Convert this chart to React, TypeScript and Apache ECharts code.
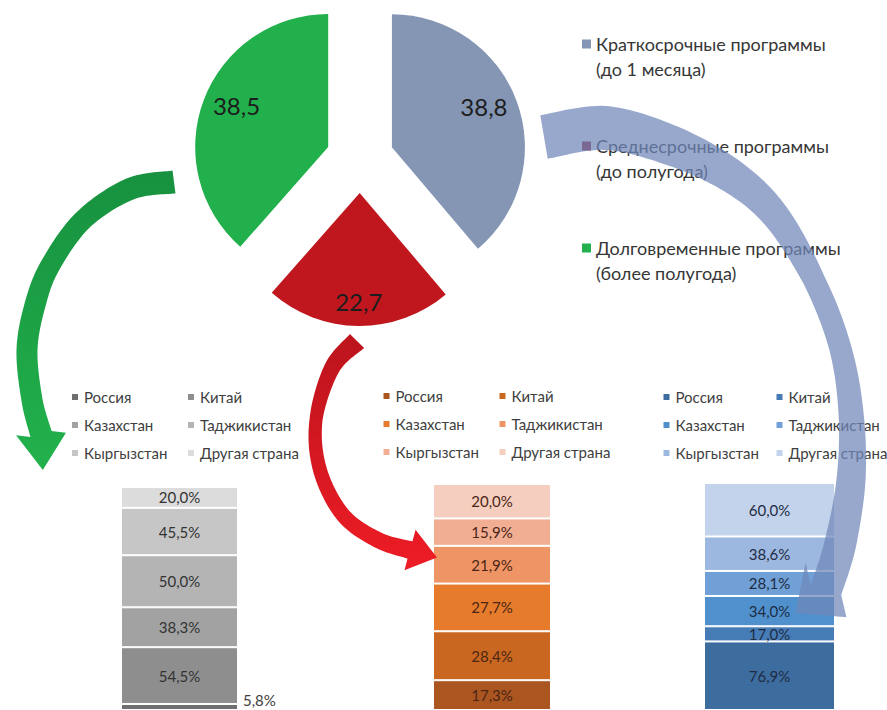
import React, { useEffect, useRef } from "react";
import * as echarts from "echarts";

// ---------- DATA ----------
const programCategories = [
  "Краткосрочные программы\n(до 1 месяца)",
  "Среднесрочные программы\n(до полугода)",
  "Долговременные программы\n(более полугода)",
];
const programShares = [38.8, 22.7, 38.5];

const countries = ["Россия", "Китай", "Казахстан", "Таджикистан", "Кыргызстан", "Другая страна"];
// long-term programmes (grey bar)
const longTermValues = [5.8, 54.5, 38.3, 50.0, 45.5, 20.0];
// medium-term programmes (orange bar)
const mediumTermValues = [17.3, 28.4, 27.7, 21.9, 15.9, 20.0];
// short-term programmes (blue bar)
const shortTermValues = [76.9, 17.0, 34.0, 28.1, 38.6, 60.0];

// ---------- STYLE ----------
const FONT = "Lato, 'Noto Sans', 'DejaVu Sans', sans-serif";
const pieColors = ["#8496b4", "#c0171f", "#21b04b"];
const pieLegendColors = ["#8496b4", "#9c1a30", "#21b04b"];
const greyColors = ["#6f6f6f", "#8e8e8e", "#a2a2a2", "#b4b4b4", "#c6c6c6", "#dcdcdc"];
const orangeColors = ["#ab5521", "#c9661f", "#e67b2b", "#ef9465", "#f2ae93", "#f6cebf"];
const blueColors = ["#3d6c9f", "#467cb5", "#5090cc", "#70a0d6", "#9cb8e0", "#c3d3ec"];

type Pt = [number, number];

function sampleSpline(pts: Pt[], widths: number[], steps = 16) {
  const out: { x: number; y: number; w: number }[] = [];
  const n = pts.length;
  for (let i = 0; i < n - 1; i++) {
    const p0 = pts[Math.max(i - 1, 0)];
    const p1 = pts[i];
    const p2 = pts[i + 1];
    const p3 = pts[Math.min(i + 2, n - 1)];
    for (let s = 0; s < steps; s++) {
      const t = s / steps;
      const t2 = t * t;
      const t3 = t2 * t;
      const f = (k: number) =>
        0.5 *
        (2 * p1[k] +
          (-p0[k] + p2[k]) * t +
          (2 * p0[k] - 5 * p1[k] + 4 * p2[k] - p3[k]) * t2 +
          (-p0[k] + 3 * p1[k] - 3 * p2[k] + p3[k]) * t3);
      out.push({ x: f(0), y: f(1), w: widths[i] + (widths[i + 1] - widths[i]) * t });
    }
  }
  out.push({ x: pts[n - 1][0], y: pts[n - 1][1], w: widths[n - 1] });
  return out;
}

function arrowPath(pts: Pt[], widths: number[], headLen: number, headHalf: number, headDir?: Pt) {
  const s = sampleSpline(pts, widths);
  const L: Pt[] = [];
  const R: Pt[] = [];
  for (let i = 0; i < s.length; i++) {
    const a = s[Math.max(i - 1, 0)];
    const b = s[Math.min(i + 1, s.length - 1)];
    let tx = b.x - a.x;
    let ty = b.y - a.y;
    const len = Math.hypot(tx, ty) || 1;
    tx /= len;
    ty /= len;
    const nx = -ty;
    const ny = tx;
    L.push([s[i].x + (nx * s[i].w) / 2, s[i].y + (ny * s[i].w) / 2]);
    R.push([s[i].x - (nx * s[i].w) / 2, s[i].y - (ny * s[i].w) / 2]);
  }
  const e = s[s.length - 1];
  const pe = s[s.length - 3];
  let dx = headDir ? headDir[0] : e.x - pe.x;
  let dy = headDir ? headDir[1] : e.y - pe.y;
  const dl = Math.hypot(dx, dy) || 1;
  dx /= dl;
  dy /= dl;
  const hx = -dy;
  const hy = dx;
  const tip: Pt = [e.x + dx * headLen, e.y + dy * headLen];
  const bl: Pt = [e.x + hx * headHalf, e.y + hy * headHalf];
  const br: Pt = [e.x - hx * headHalf, e.y - hy * headHalf];
  const f = (p: Pt) => `${p[0].toFixed(2)} ${p[1].toFixed(2)}`;
  let d = `M ${f(L[0])}`;
  for (let i = 1; i < L.length; i++) d += ` L ${f(L[i])}`;
  d += ` L ${f(bl)} L ${f(tip)} L ${f(br)}`;
  for (let i = R.length - 1; i >= 0; i--) d += ` L ${f(R[i])}`;
  return d + " Z";
}

const greenArrowD = arrowPath(
  [[174, 182], [130, 189], [83, 220], [50, 266], [35, 305], [27, 350], [32, 400], [41, 434]],
  [23, 22, 20, 20, 21, 21, 21, 22],
  36,
  25,
  [0.05, 1]
);
const redArrowD = arrowPath(
  [[357, 341], [332, 368], [316, 420], [320, 470], [343, 515], [378, 540], [410, 550]],
  [20, 16, 13, 14, 15, 16, 18],
  28,
  21
);
const blueArrowD = arrowPath(
  [[544, 137], [605, 128], [670, 145], [730, 175], [775, 215], [814, 280], [840, 347], [851, 413], [851, 480], [840, 545], [826, 590]],
  [44, 44, 40, 34, 28, 22, 22, 25, 29, 32, 32],
  38,
  34,
  [-0.8, 0.6]
);

echarts.graphic.registerShape("arrowGreen", echarts.graphic.extendPath(greenArrowD, {}));
echarts.graphic.registerShape("arrowRed", echarts.graphic.extendPath(redArrowD, {}));
echarts.graphic.registerShape("arrowBlue", echarts.graphic.extendPath(blueArrowD, {}));

const fmtPct = (v: number) => v.toFixed(1).replace(".", ",") + "%";
const fmtNum = (v: number) => v.toFixed(1).replace(".", ",");
const sum = (a: number[]) => a.reduce((s, v) => s + v, 0);

const barGroups = [
  { values: longTermValues, colors: greyColors, labelColor: "#333333", left: 121, width: 117, top: 487 },
  { values: mediumTermValues, colors: orangeColors, labelColor: "#4a2616", left: 433, width: 118, top: 484 },
  { values: shortTermValues, colors: blueColors, labelColor: "#1e2c44", left: 704, width: 131, top: 483 },
];
const legendLefts = [70, 381.5, 661.5];
const legendTops = [389, 388, 389];
const legendTextWidths = [90, 90, 87];
// vertical nudge of the pie value labels, done with an empty text line
const pieLabelShift = [
  { before: false, lineHeight: 14 },
  { before: true, lineHeight: 22 },
  { before: false, lineHeight: 14 },
];

export default function App() {
  const ref = useRef<HTMLDivElement>(null);
  useEffect(() => {
    if (!ref.current) return;
    const chart = echarts.init(ref.current, undefined, { renderer: "svg" });

    const grids = barGroups.map((g) => ({
      left: g.left,
      width: g.width,
      top: g.top,
      height: 711 - g.top,
      containLabel: false,
    }));
    const xAxes = barGroups.map((_, i) => ({
      type: "category" as const,
      gridIndex: i,
      data: [""],
      show: false,
    }));
    const yAxes = barGroups.map((g, i) => ({
      type: "value" as const,
      gridIndex: i,
      min: 0,
      max: sum(g.values),
      show: false,
    }));
    const barSeries: any[] = [];
    barGroups.forEach((g, gi) => {
      countries.forEach((c, ci) => {
        const v = g.values[ci];
        const small = v / sum(g.values) < 0.04;
        barSeries.push({
          type: "bar",
          name: c,
          stack: "s" + gi,
          xAxisIndex: gi,
          yAxisIndex: gi,
          barWidth: "100%",
          data: [v],
          silent: true,
          itemStyle: { color: g.colors[ci], borderColor: "#ffffff", borderWidth: 1 },
          label: {
            show: true,
            position: small ? "right" : "inside",
            distance: 5,
            formatter: (p: any) => fmtPct(p.value),
            color: small ? "#404040" : g.labelColor,
            fontSize: 15,
            fontFamily: FONT,
            offset: small ? [0, -7] : [0, 0],
          },
          emphasis: { disabled: true },
        });
      });
    });

    const barLegends = barGroups.map((g, gi) => ({
      orient: "horizontal",
      left: legendLefts[gi],
      top: legendTops[gi],
      width: 240,
      padding: 0,
      itemGap: 12,
      itemWidth: 8,
      itemHeight: 8,
      icon: "rect",
      selectedMode: false,
      data: countries.map((c, ci) => ({ name: c, itemStyle: { color: g.colors[ci] } })),
      textStyle: {
        fontSize: 15,
        lineHeight: 16,
        width: legendTextWidths[gi],
        overflow: "none",
        color: "#404040",
        fontFamily: FONT,
      },
    }));

    const pieCommon = {
      type: "pie",
      center: [360, 159],
      startAngle: 90,
      clockwise: true,
      selectedMode: "multiple",
      selectedOffset: 34,
      silent: true,
      labelLine: { show: false },
      emphasis: { disabled: true },
    };

    chart.setOption({
      animation: false,
      textStyle: { fontFamily: FONT },
      legend: [
        {
          orient: "vertical",
          left: 582,
          top: 6.5,
          padding: 0,
          itemGap: 27,
          itemWidth: 9,
          itemHeight: 9,
          icon: "rect",
          selectedMode: false,
          formatter: (name: string) => "\n" + name,
          data: programCategories.map((n, i) => ({ name: n, itemStyle: { color: pieLegendColors[i] } })),
          textStyle: {
            fontSize: 18,
            lineHeight: 25,
            color: "#363636",
            fontFamily: FONT,
          },
        },
        ...barLegends,
      ],
      grid: grids,
      xAxis: xAxes,
      yAxis: yAxes,
      series: [
        {
          ...pieCommon,
          radius: [0, 133],
          data: programCategories.map((name, i) => ({
            name,
            value: programShares[i],
            selected: true,
            itemStyle: { color: pieColors[i] },
          })),
          label: { show: false },
        },
        {
          // transparent copy of the pie that only carries the value labels
          ...pieCommon,
          radius: [57, 133],
          z: 3,
          data: programCategories.map((name, i) => ({
            name,
            value: programShares[i],
            selected: true,
            itemStyle: { color: "rgba(0,0,0,0)", borderWidth: 0 },
            label: { lineHeight: pieLabelShift[i].lineHeight },
          })),
          label: {
            show: true,
            position: "inside",
            formatter: (p: any) =>
              pieLabelShift[p.dataIndex].before ? "\n" + fmtNum(p.value) : fmtNum(p.value) + "\n",
            fontSize: 24,
            color: "#1d1d1d",
            fontFamily: FONT,
            overflow: "none",
          },
        },
        ...barSeries,
      ],
      graphic: {
        elements: [
          {
            type: "arrowGreen",
            x: 0,
            y: 0,
            z: 100,
            silent: true,
            style: {
              fill: new echarts.graphic.LinearGradient(0, 0, 0, 1, [
                { offset: 0, color: "#17913f" },
                { offset: 1, color: "#22b24c" },
              ]),
            },
          },
          {
            type: "arrowRed",
            x: 0,
            y: 0,
            z: 100,
            silent: true,
            style: {
              fill: new echarts.graphic.LinearGradient(0, 0, 0, 1, [
                { offset: 0, color: "#bb141d" },
                { offset: 1, color: "#ee1c25" },
              ]),
            },
          },
          {
            type: "arrowBlue",
            x: 0,
            y: 0,
            z: 100,
            silent: true,
            style: { fill: "#6f87b8", opacity: 0.72 },
          },
        ],
      },
    });
    return () => chart.dispose();
  }, []);
  return (
    <div
      ref={ref}
      style={{ position: "absolute", left: 0, top: 0, width: 887, height: 710 }}
    />
  );
}
